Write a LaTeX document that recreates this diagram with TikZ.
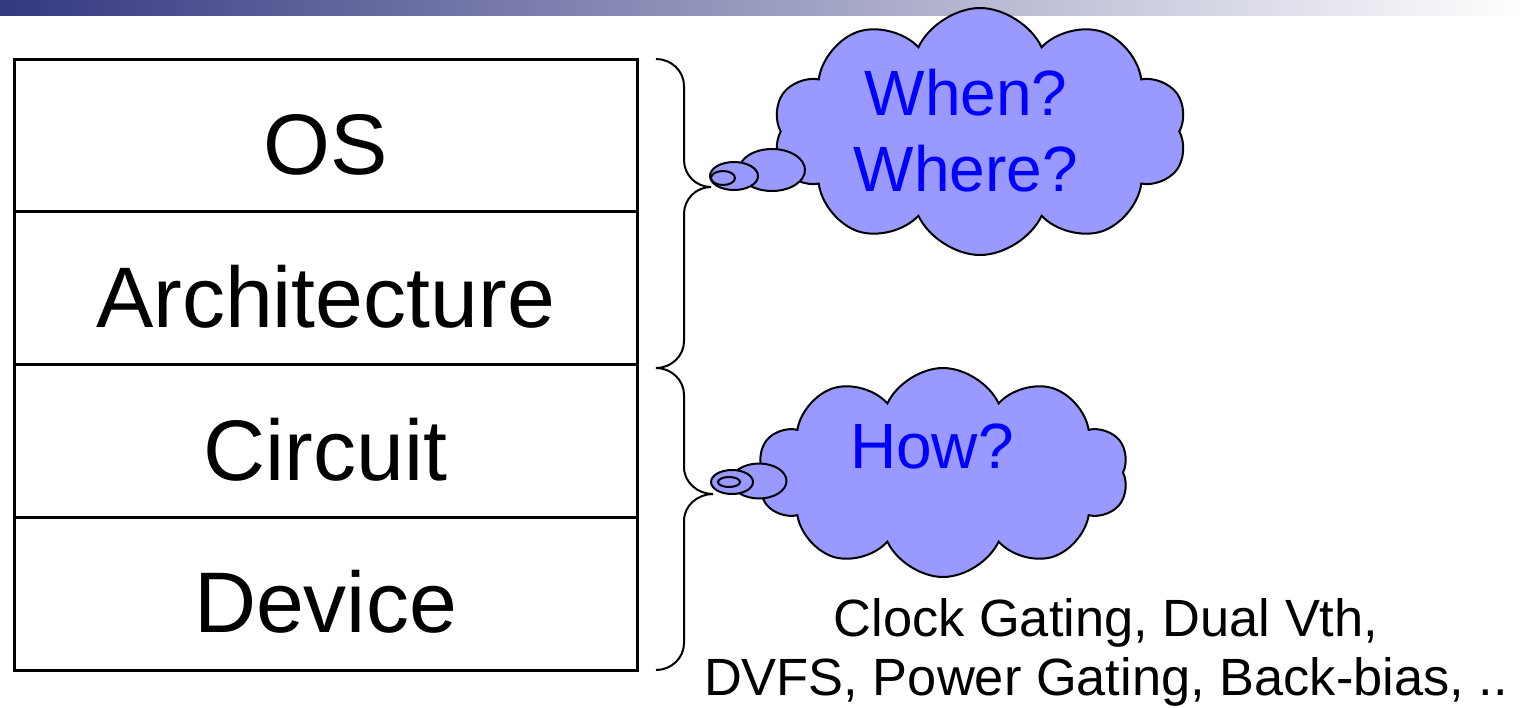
\documentclass[tikz,border=0pt]{standalone}
\usepackage{fontspec}
\setmainfont{Liberation Sans}
\usetikzlibrary{positioning,calc,shapes.geometric,shapes.symbols}

\definecolor{puff}{RGB}{153,153,255}
\definecolor{barblue}{RGB}{52,56,128}
\definecolor{barmid}{RGB}{182,184,206}

\tikzset{
	layer/.style={draw,line width=1.5pt,minimum width=311.5pt,minimum height=76.4pt,
		inner sep=0pt,outer sep=0pt,text height=39pt,text depth=0pt,font=\fontsize{43}{50}\selectfont},
	thought/.style={cloud,draw,fill=puff,line width=1pt,cloud puffs=10,cloud puff arc=130,
		cloud ignores aspect,inner sep=0pt},
	bubble/.style={ellipse,draw,fill=puff,line width=1pt,inner sep=0pt},
	asktext/.style={text=blue,align=center,font=\fontsize{32}{38}\selectfont},
	bracket/.style={line width=1pt},
}

\begin{document}
\begin{tikzpicture}[x=0.5pt,y=-0.5pt]
	\useasboundingbox (0,0) rectangle (1524,707);
	\shade[left color=barblue,middle color=barmid,right color=white] (0,0) rectangle (1524,15);

	% the layers
	\node[layer] (os) at (325.5,135.4) {OS};
	\node[layer,below=0pt of os] (arch) {Architecture};
	\node[layer,below=0pt of arch] (circuit) {Circuit};
	\node[layer,below=0pt of circuit] (device) {Device};

	% braces
	\coordinate (b1) at (656,59);
	\coordinate (tip1) at (711,187);
	\coordinate (b2) at (656,368);
	\coordinate (tip2) at (713,494);
	\coordinate (b3) at (656,670);
	\draw[bracket] (b1) to[out=0,in=90] ++(28,27) -- ($(tip1)+(-27,-27)$)
		to[out=-90,in=180] (tip1) to[out=180,in=90] ($(tip1)+(-27,27)$)
		-- ($(b2)+(28,-27)$) to[out=-90,in=0] (b2);
	\draw[bracket] (b2) to[out=0,in=90] ++(28,27) -- ($(tip2)+(-29,-27)$)
		to[out=-90,in=180] (tip2) to[out=180,in=90] ($(tip2)+(-29,27)$)
		-- ($(b3)+(28,-27)$) to[out=-90,in=0] (b3);

	% thought clouds
	\node[thought,minimum width=207pt,minimum height=123.5pt] (whencloud) at (980,131.5) {};
	\node[bubble,minimum width=33pt,minimum height=21pt] (whenbig) at (772,170) {};
	\node[bubble,minimum width=24pt,minimum height=14pt] (whenmid) at (734,176) {};
	\node[bubble,minimum width=12pt,minimum height=7pt] (whensmall) at (723,178) {};
	\node[asktext] (whentext) at (966,130.5) {When?\\Where?};

	\node[thought,minimum width=185.5pt,minimum height=104.5pt] (howcloud) at (943,472.5) {};
	\node[bubble,minimum width=27.5pt,minimum height=17.5pt] (howbig) at (759,481) {};
	\node[bubble,minimum width=21pt,minimum height=12pt] (howmid) at (732,482) {};
	\node[bubble,minimum width=11pt,minimum height=5pt] (howsmall) at (729,482) {};
	\node[asktext] (howtext) at (932,446.5) {How?};

	\node[align=center,font=\fontsize{26.2}{29.5}\selectfont] (tricks) at (1106,652)
		{Clock Gating, Dual Vth,\\DVFS, Power Gating, Back-bias, ..};
\end{tikzpicture}
\end{document}
